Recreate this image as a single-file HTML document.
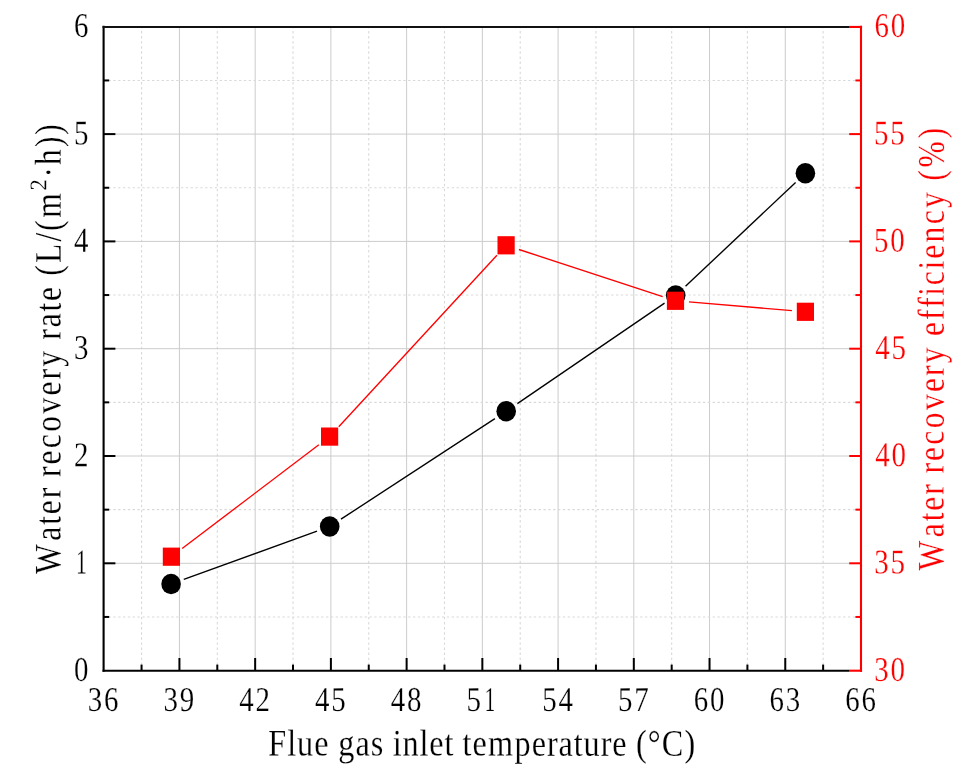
<!DOCTYPE html>
<html><head><meta charset="utf-8"><style>
html,body{margin:0;padding:0;background:#fff;}
svg{display:block;will-change:transform;}
text{font-family:"Liberation Serif",serif;text-rendering:geometricPrecision;}
</style></head><body>
<svg width="970" height="776" viewBox="0 0 970 776">
<rect width="970" height="776" fill="#fff"/>
<line x1="179.43" y1="27.80" x2="179.43" y2="669.60" stroke="#cccccc" stroke-width="1.0"/>
<line x1="255.16" y1="27.80" x2="255.16" y2="669.60" stroke="#cccccc" stroke-width="1.0"/>
<line x1="330.89" y1="27.80" x2="330.89" y2="669.60" stroke="#cccccc" stroke-width="1.0"/>
<line x1="406.62" y1="27.80" x2="406.62" y2="669.60" stroke="#cccccc" stroke-width="1.0"/>
<line x1="482.35" y1="27.80" x2="482.35" y2="669.60" stroke="#cccccc" stroke-width="1.0"/>
<line x1="558.08" y1="27.80" x2="558.08" y2="669.60" stroke="#cccccc" stroke-width="1.0"/>
<line x1="633.81" y1="27.80" x2="633.81" y2="669.60" stroke="#cccccc" stroke-width="1.0"/>
<line x1="709.54" y1="27.80" x2="709.54" y2="669.60" stroke="#cccccc" stroke-width="1.0"/>
<line x1="785.27" y1="27.80" x2="785.27" y2="669.60" stroke="#cccccc" stroke-width="1.0"/>
<line x1="141.56" y1="25.88" x2="141.56" y2="669.60" stroke="#d9d9d9" stroke-width="1.1" stroke-dasharray="2.45 2.645"/>
<line x1="217.30" y1="25.88" x2="217.30" y2="669.60" stroke="#d9d9d9" stroke-width="1.1" stroke-dasharray="2.45 2.645"/>
<line x1="293.02" y1="25.88" x2="293.02" y2="669.60" stroke="#d9d9d9" stroke-width="1.1" stroke-dasharray="2.45 2.645"/>
<line x1="368.75" y1="25.88" x2="368.75" y2="669.60" stroke="#d9d9d9" stroke-width="1.1" stroke-dasharray="2.45 2.645"/>
<line x1="444.48" y1="25.88" x2="444.48" y2="669.60" stroke="#d9d9d9" stroke-width="1.1" stroke-dasharray="2.45 2.645"/>
<line x1="520.22" y1="25.88" x2="520.22" y2="669.60" stroke="#d9d9d9" stroke-width="1.1" stroke-dasharray="2.45 2.645"/>
<line x1="595.94" y1="25.88" x2="595.94" y2="669.60" stroke="#d9d9d9" stroke-width="1.1" stroke-dasharray="2.45 2.645"/>
<line x1="671.68" y1="25.88" x2="671.68" y2="669.60" stroke="#d9d9d9" stroke-width="1.1" stroke-dasharray="2.45 2.645"/>
<line x1="747.40" y1="25.88" x2="747.40" y2="669.60" stroke="#d9d9d9" stroke-width="1.1" stroke-dasharray="2.45 2.645"/>
<line x1="823.13" y1="25.88" x2="823.13" y2="669.60" stroke="#d9d9d9" stroke-width="1.1" stroke-dasharray="2.45 2.645"/>
<line x1="104.70" y1="563.30" x2="860.00" y2="563.30" stroke="#cccccc" stroke-width="1.0"/>
<line x1="104.70" y1="456.00" x2="860.00" y2="456.00" stroke="#cccccc" stroke-width="1.0"/>
<line x1="104.70" y1="348.70" x2="860.00" y2="348.70" stroke="#cccccc" stroke-width="1.0"/>
<line x1="104.70" y1="241.40" x2="860.00" y2="241.40" stroke="#cccccc" stroke-width="1.0"/>
<line x1="104.70" y1="134.10" x2="860.00" y2="134.10" stroke="#cccccc" stroke-width="1.0"/>
<line x1="103.66" y1="616.95" x2="860.00" y2="616.95" stroke="#d9d9d9" stroke-width="1.1" stroke-dasharray="2.35 2.483"/>
<line x1="103.66" y1="509.65" x2="860.00" y2="509.65" stroke="#d9d9d9" stroke-width="1.1" stroke-dasharray="2.35 2.483"/>
<line x1="103.66" y1="402.35" x2="860.00" y2="402.35" stroke="#d9d9d9" stroke-width="1.1" stroke-dasharray="2.35 2.483"/>
<line x1="103.66" y1="295.05" x2="860.00" y2="295.05" stroke="#d9d9d9" stroke-width="1.1" stroke-dasharray="2.35 2.483"/>
<line x1="103.66" y1="187.75" x2="860.00" y2="187.75" stroke="#d9d9d9" stroke-width="1.1" stroke-dasharray="2.35 2.483"/>
<line x1="103.66" y1="80.45" x2="860.00" y2="80.45" stroke="#d9d9d9" stroke-width="1.1" stroke-dasharray="2.35 2.483"/>
<line x1="103.60" y1="25.75" x2="103.60" y2="671.65" stroke="#000" stroke-width="2.1"/>
<line x1="102.55" y1="670.70" x2="849" y2="670.70" stroke="#000" stroke-width="2.1"/>
<line x1="102.55" y1="26.95" x2="849" y2="26.95" stroke="#111" stroke-width="2.1"/>
<line x1="849" y1="670.70" x2="862.05" y2="670.70" stroke="#f00" stroke-width="2.1"/>
<line x1="849" y1="26.95" x2="862.05" y2="26.95" stroke="#f00" stroke-width="2.1"/>
<line x1="861.00" y1="25.75" x2="861.00" y2="671.65" stroke="#f00" stroke-width="2.1"/>
<line x1="179.43" y1="670.60" x2="179.43" y2="658.00" stroke="#000" stroke-width="2.0"/>
<line x1="255.16" y1="670.60" x2="255.16" y2="658.00" stroke="#000" stroke-width="2.0"/>
<line x1="330.89" y1="670.60" x2="330.89" y2="658.00" stroke="#000" stroke-width="2.0"/>
<line x1="406.62" y1="670.60" x2="406.62" y2="658.00" stroke="#000" stroke-width="2.0"/>
<line x1="482.35" y1="670.60" x2="482.35" y2="658.00" stroke="#000" stroke-width="2.0"/>
<line x1="558.08" y1="670.60" x2="558.08" y2="658.00" stroke="#000" stroke-width="2.0"/>
<line x1="633.81" y1="670.60" x2="633.81" y2="658.00" stroke="#000" stroke-width="2.0"/>
<line x1="709.54" y1="670.60" x2="709.54" y2="658.00" stroke="#000" stroke-width="2.0"/>
<line x1="785.27" y1="670.60" x2="785.27" y2="658.00" stroke="#000" stroke-width="2.0"/>
<line x1="141.56" y1="670.60" x2="141.56" y2="664.60" stroke="#000" stroke-width="2.0"/>
<line x1="217.30" y1="670.60" x2="217.30" y2="664.60" stroke="#000" stroke-width="2.0"/>
<line x1="293.02" y1="670.60" x2="293.02" y2="664.60" stroke="#000" stroke-width="2.0"/>
<line x1="368.75" y1="670.60" x2="368.75" y2="664.60" stroke="#000" stroke-width="2.0"/>
<line x1="444.48" y1="670.60" x2="444.48" y2="664.60" stroke="#000" stroke-width="2.0"/>
<line x1="520.22" y1="670.60" x2="520.22" y2="664.60" stroke="#000" stroke-width="2.0"/>
<line x1="595.94" y1="670.60" x2="595.94" y2="664.60" stroke="#000" stroke-width="2.0"/>
<line x1="671.68" y1="670.60" x2="671.68" y2="664.60" stroke="#000" stroke-width="2.0"/>
<line x1="747.40" y1="670.60" x2="747.40" y2="664.60" stroke="#000" stroke-width="2.0"/>
<line x1="823.13" y1="670.60" x2="823.13" y2="664.60" stroke="#000" stroke-width="2.0"/>
<line x1="103.60" y1="563.30" x2="115.40" y2="563.30" stroke="#000" stroke-width="2.0"/>
<line x1="861.00" y1="563.30" x2="849.20" y2="563.30" stroke="#f00" stroke-width="2.0"/>
<line x1="103.60" y1="456.00" x2="115.40" y2="456.00" stroke="#000" stroke-width="2.0"/>
<line x1="861.00" y1="456.00" x2="849.20" y2="456.00" stroke="#f00" stroke-width="2.0"/>
<line x1="103.60" y1="348.70" x2="115.40" y2="348.70" stroke="#000" stroke-width="2.0"/>
<line x1="861.00" y1="348.70" x2="849.20" y2="348.70" stroke="#f00" stroke-width="2.0"/>
<line x1="103.60" y1="241.40" x2="115.40" y2="241.40" stroke="#000" stroke-width="2.0"/>
<line x1="861.00" y1="241.40" x2="849.20" y2="241.40" stroke="#f00" stroke-width="2.0"/>
<line x1="103.60" y1="134.10" x2="115.40" y2="134.10" stroke="#000" stroke-width="2.0"/>
<line x1="861.00" y1="134.10" x2="849.20" y2="134.10" stroke="#f00" stroke-width="2.0"/>
<line x1="103.60" y1="616.95" x2="109.20" y2="616.95" stroke="#000" stroke-width="2.0"/>
<line x1="861.00" y1="616.95" x2="855.40" y2="616.95" stroke="#f00" stroke-width="2.0"/>
<line x1="103.60" y1="509.65" x2="109.20" y2="509.65" stroke="#000" stroke-width="2.0"/>
<line x1="861.00" y1="509.65" x2="855.40" y2="509.65" stroke="#f00" stroke-width="2.0"/>
<line x1="103.60" y1="402.35" x2="109.20" y2="402.35" stroke="#000" stroke-width="2.0"/>
<line x1="861.00" y1="402.35" x2="855.40" y2="402.35" stroke="#f00" stroke-width="2.0"/>
<line x1="103.60" y1="295.05" x2="109.20" y2="295.05" stroke="#000" stroke-width="2.0"/>
<line x1="861.00" y1="295.05" x2="855.40" y2="295.05" stroke="#f00" stroke-width="2.0"/>
<line x1="103.60" y1="187.75" x2="109.20" y2="187.75" stroke="#000" stroke-width="2.0"/>
<line x1="861.00" y1="187.75" x2="855.40" y2="187.75" stroke="#f00" stroke-width="2.0"/>
<line x1="103.60" y1="80.45" x2="109.20" y2="80.45" stroke="#000" stroke-width="2.0"/>
<line x1="861.00" y1="80.45" x2="855.40" y2="80.45" stroke="#f00" stroke-width="2.0"/>
<line x1="183.79" y1="579.45" x2="317.01" y2="531.15" stroke="#000" stroke-width="1.35"/>
<line x1="341.00" y1="519.17" x2="494.90" y2="418.63" stroke="#000" stroke-width="1.35"/>
<line x1="517.35" y1="403.64" x2="664.55" y2="303.16" stroke="#000" stroke-width="1.35"/>
<line x1="685.52" y1="286.29" x2="795.58" y2="182.51" stroke="#000" stroke-width="1.35"/>
<line x1="182.15" y1="548.54" x2="318.85" y2="444.76" stroke="#f00" stroke-width="1.35"/>
<line x1="338.75" y1="426.68" x2="496.95" y2="255.22" stroke="#f00" stroke-width="1.35"/>
<line x1="518.93" y1="249.50" x2="662.67" y2="296.60" stroke="#f00" stroke-width="1.35"/>
<line x1="688.95" y1="301.94" x2="791.95" y2="310.66" stroke="#f00" stroke-width="1.35"/>
<ellipse cx="171.1" cy="584.05" rx="9.8" ry="10.2" fill="#000"/>
<ellipse cx="329.7" cy="526.55" rx="9.8" ry="10.2" fill="#000"/>
<ellipse cx="506.2" cy="411.25" rx="9.8" ry="10.2" fill="#000"/>
<ellipse cx="675.7" cy="295.55" rx="9.8" ry="10.2" fill="#000"/>
<ellipse cx="805.4" cy="173.25" rx="9.8" ry="10.2" fill="#000"/>
<rect x="162.80" y="547.60" width="17.2" height="18.2" fill="#f00"/>
<rect x="321.00" y="427.50" width="17.2" height="18.2" fill="#f00"/>
<rect x="497.50" y="236.20" width="17.2" height="18.2" fill="#f00"/>
<rect x="666.90" y="291.70" width="17.2" height="18.2" fill="#f00"/>
<rect x="796.80" y="302.70" width="17.2" height="18.2" fill="#f00"/>
<text transform="translate(103.20,711.10) rotate(0.05) scale(0.83,1.0)" x="-18.50 1.10" y="0" font-size="34.8" fill="#000" stroke="#fff" stroke-width="0.2">36</text>
<text transform="translate(178.93,711.10) rotate(0.05) scale(0.83,1.0)" x="-18.50 1.10" y="0" font-size="34.8" fill="#000" stroke="#fff" stroke-width="0.2">39</text>
<text transform="translate(254.66,711.10) rotate(0.05) scale(0.83,1.0)" x="-18.50 1.10" y="0" font-size="34.8" fill="#000" stroke="#fff" stroke-width="0.2">42</text>
<text transform="translate(330.39,711.10) rotate(0.05) scale(0.83,1.0)" x="-18.50 1.10" y="0" font-size="34.8" fill="#000" stroke="#fff" stroke-width="0.2">45</text>
<text transform="translate(406.12,711.10) rotate(0.05) scale(0.83,1.0)" x="-18.50 1.10" y="0" font-size="34.8" fill="#000" stroke="#fff" stroke-width="0.2">48</text>
<text transform="translate(481.85,711.10) rotate(0.05) scale(0.83,1.0)" x="-18.50" y="0" font-size="34.8" fill="#000" stroke="#fff" stroke-width="0.2">5</text>
<text transform="translate(481.85,711.10) rotate(0.05) scale(0.62,1.0)" x="4.42" y="0" font-size="34.8" fill="#000" stroke="#fff" stroke-width="0.2">1</text>
<text transform="translate(557.58,711.10) rotate(0.05) scale(0.83,1.0)" x="-18.50 1.10" y="0" font-size="34.8" fill="#000" stroke="#fff" stroke-width="0.2">54</text>
<text transform="translate(633.31,711.10) rotate(0.05) scale(0.83,1.0)" x="-18.50 1.10" y="0" font-size="34.8" fill="#000" stroke="#fff" stroke-width="0.2">57</text>
<text transform="translate(709.04,711.10) rotate(0.05) scale(0.83,1.0)" x="-18.50 1.10" y="0" font-size="34.8" fill="#000" stroke="#fff" stroke-width="0.2">60</text>
<text transform="translate(784.77,711.10) rotate(0.05) scale(0.83,1.0)" x="-18.50 1.10" y="0" font-size="34.8" fill="#000" stroke="#fff" stroke-width="0.2">63</text>
<text transform="translate(860.50,711.10) rotate(0.05) scale(0.83,1.0)" x="-18.50 1.10" y="0" font-size="34.8" fill="#000" stroke="#fff" stroke-width="0.2">66</text>
<text transform="translate(89.40,680.90) rotate(0.05) scale(0.83,1.0)" x="-18.50" y="0" font-size="34.8" fill="#000" stroke="#fff" stroke-width="0.2">0</text>
<text transform="translate(89.40,573.60) rotate(0.05) scale(0.62,1.0)" x="-21.82" y="0" font-size="34.8" fill="#000" stroke="#fff" stroke-width="0.2">1</text>
<text transform="translate(89.40,466.30) rotate(0.05) scale(0.83,1.0)" x="-18.50" y="0" font-size="34.8" fill="#000" stroke="#fff" stroke-width="0.2">2</text>
<text transform="translate(89.40,359.00) rotate(0.05) scale(0.83,1.0)" x="-18.50" y="0" font-size="34.8" fill="#000" stroke="#fff" stroke-width="0.2">3</text>
<text transform="translate(89.40,251.70) rotate(0.05) scale(0.83,1.0)" x="-18.50" y="0" font-size="34.8" fill="#000" stroke="#fff" stroke-width="0.2">4</text>
<text transform="translate(89.40,144.40) rotate(0.05) scale(0.83,1.0)" x="-18.50" y="0" font-size="34.8" fill="#000" stroke="#fff" stroke-width="0.2">5</text>
<text transform="translate(89.40,37.10) rotate(0.05) scale(0.83,1.0)" x="-18.50" y="0" font-size="34.8" fill="#000" stroke="#fff" stroke-width="0.2">6</text>
<text transform="translate(875.70,680.90) rotate(0.05) scale(0.83,1.0)" x="-1.67 17.94" y="0" font-size="34.8" fill="#f00" stroke="#fff" stroke-width="0.2">30</text>
<text transform="translate(875.70,573.60) rotate(0.05) scale(0.83,1.0)" x="-1.67 17.94" y="0" font-size="34.8" fill="#f00" stroke="#fff" stroke-width="0.2">35</text>
<text transform="translate(875.70,466.30) rotate(0.05) scale(0.83,1.0)" x="-0.68 18.92" y="0" font-size="34.8" fill="#f00" stroke="#fff" stroke-width="0.2">40</text>
<text transform="translate(875.70,359.00) rotate(0.05) scale(0.83,1.0)" x="-0.68 18.92" y="0" font-size="34.8" fill="#f00" stroke="#fff" stroke-width="0.2">45</text>
<text transform="translate(875.70,251.70) rotate(0.05) scale(0.83,1.0)" x="-2.02 17.58" y="0" font-size="34.8" fill="#f00" stroke="#fff" stroke-width="0.2">50</text>
<text transform="translate(875.70,144.40) rotate(0.05) scale(0.83,1.0)" x="-2.02 17.58" y="0" font-size="34.8" fill="#f00" stroke="#fff" stroke-width="0.2">55</text>
<text transform="translate(875.70,37.10) rotate(0.05) scale(0.83,1.0)" x="-1.50 18.11" y="0" font-size="34.8" fill="#f00" stroke="#fff" stroke-width="0.2">60</text>
<text transform="translate(481.50,755.60) rotate(0.05) scale(0.88,1.025)" x="-242.23 -220.78 -209.59 -190.06 -172.90 -162.77 -143.23 -125.90 -110.82 -100.97 -89.79 -70.47 -59.35 -42.16 -31.30 -21.46 -10.35 7.50 37.64 57.18 74.44 87.65 104.84 116.02 135.42 148.62 165.78 175.69 188.84 204.87 230.59" y="0" font-size="36.6" fill="#000" stroke="#fff" stroke-width="0.2">Flue gas inlet temperature (°C)</text>
<text transform="translate(60.60,350.00) rotate(-89.95) scale(0.86,1.025)" x="-260.38 -221.71 -203.31 -190.99 -172.43 -158.51 -147.62 -133.12 -114.23 -95.17 -73.89 -52.78 -34.22 -19.55 0.98 11.87 26.37 44.76 57.08 75.40 86.28 101.28 126.29 138.27 153.77" y="0" font-size="36.6" fill="#000" stroke="#fff" stroke-width="0.2">Water recovery rate (L/(m</text>
<text transform="translate(46.10,350.00) rotate(-89.95) scale(0.95,1.0)" x="167.91" y="0" font-size="23.8" fill="#000" stroke="#fff" stroke-width="0.2">2</text>
<text transform="translate(60.60,350.00) rotate(-89.95) scale(0.86,1.025)" x="200.55 215.22 236.00 250.17" y="0" font-size="36.6" fill="#000" stroke="#fff" stroke-width="0.2">·h))</text>
<text transform="translate(943.70,350.00) rotate(-89.95) scale(0.86,1.025)" x="-256.31 -217.64 -199.24 -186.92 -168.36 -154.44 -143.55 -129.05 -110.16 -91.10 -69.82 -48.71 -30.15 -15.48 5.05 16.27 34.83 49.00 63.01 75.33 93.72 106.04 125.10 146.21 165.26 185.80 196.68 212.35 246.31" y="0" font-size="36.6" fill="#f00" stroke="#fff" stroke-width="0.2">Water recovery efficiency (%)</text>
</svg>
</body></html>
